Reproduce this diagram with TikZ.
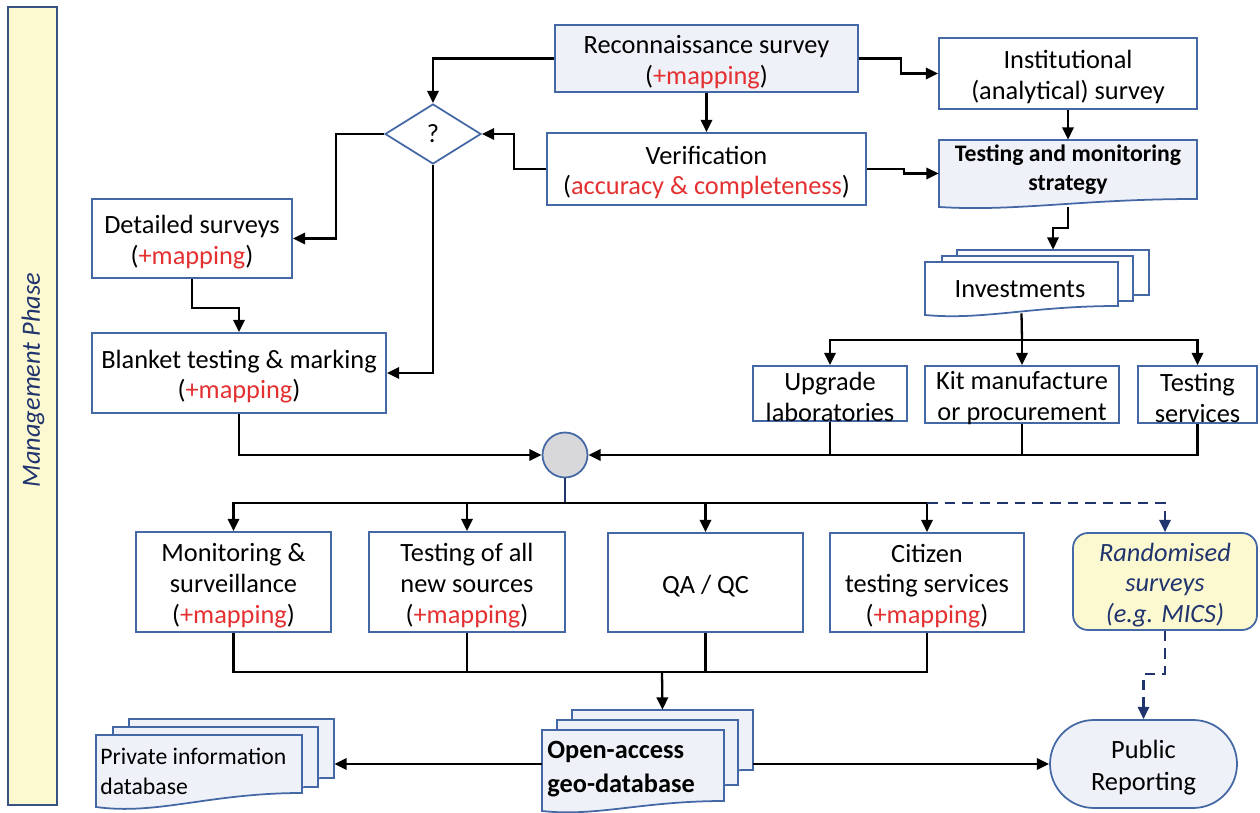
\documentclass[tikz,border=0pt]{standalone}
\usepackage{fontspec}
\setmainfont{Carlito}
\usetikzlibrary{shapes.geometric,arrows.meta,fit,calc}
\definecolor{boxblue}{RGB}{68,104,165}
\definecolor{navy}{RGB}{32,52,110}
\definecolor{mapred}{RGB}{228,48,48}
\definecolor{lightfill}{RGB}{238,241,247}
\definecolor{yel}{RGB}{252,248,208}
\definecolor{circgray}{RGB}{216,216,218}
\newcommand{\rtxt}[1]{\textcolor{mapred}{#1}}
\newcommand{\docshape}[6]{%
  \filldraw[draw=boxblue, line width=1pt, fill=#5] (#1,#2) -- (#3,#2) -- (#3,{#4-#6})
    .. controls ({#1+0.55*(#3-#1)},{#4-#6}) and ({#1+0.3*(#3-#1)},{#4+0.6*#6}) .. (#1,#4) -- cycle;}
\begin{document}
\begin{tikzpicture}[x=0.02cm,y=-0.02cm,
  box/.style={draw=boxblue, line width=1pt, fill=white, inner sep=0pt},
  shapebox/.style={inner sep=0pt, draw=none},
  txt/.style={inner sep=0pt, align=center, font=\fontsize{15}{17.5}\selectfont},
  ctxt/.style={txt, yshift=-2pt},
  con/.style={line width=1.3pt},
  arr/.style={con, -{Triangle[length=7pt,width=6.5pt]}},
  dasharr/.style={line width=1.3pt, draw=navy, dash pattern=on 6pt off 4pt, -{Triangle[length=7pt,width=6.5pt,fill=navy]}}
]
\useasboundingbox (0,0) rectangle (1260,813);

% Management phase bar
\node[draw=boxblue!80!black, line width=1pt, fill=yel, fit={(8,7)(57,805)}, inner sep=0pt] (mgmt) {};
\node[rotate=90, font=\fontsize{15}{18}\selectfont\itshape, text=navy] (mgmtlbl) at (33,380) {Management Phase};

% top boxes
\node[box, fill=lightfill, fit={(555,25)(858,92)}] (recon) {};
\node[ctxt] at (recon.center) {Reconnaissance survey\\(\rtxt{+mapping})};
\node[box, fit={(547,133)(866,205)}] (verif) {};
\node[ctxt] at (verif.center) {Verification\\(\rtxt{accuracy \& completeness})};
\node[box, fit={(939,38)(1197,109)}] (inst) {};
\node[ctxt] at (inst.center) {Institutional\\(analytical) survey};
\node[box, fit={(92,199)(292,278)}] (det) {};
\node[ctxt] at (det.center) {Detailed surveys\\(\rtxt{+mapping})};
\node[box, fit={(92,333)(386,413)}] (blank) {};
\node[ctxt] at (blank.center) {Blanket testing \& marking\\(\rtxt{+mapping})};
\node[draw=boxblue, fill=white, line width=1pt, diamond, aspect=1.6, minimum width=1.92cm, minimum height=1.2cm, inner sep=0pt, font=\fontsize{15}{17.5}\selectfont] (q) at (433,134) {?};

% testing and monitoring strategy
\docshape{939}{140}{1197}{207}{lightfill}{8}
\node[shapebox, fit={(939,140)(1197,207)}] (tms) {};
\node[txt, font=\fontsize{13.5}{16.5}\selectfont\bfseries] (tmslbl) at (1068,170) {Testing and monitoring\\strategy};

% investments stack
\docshape{957}{250}{1149}{301}{white}{6}
\docshape{942}{256}{1133}{308}{white}{7}
\docshape{925}{262}{1118}{315}{white}{9}
\node[shapebox, fit={(925,262)(1118,313)}] (inv) {};
\node[shapebox, fit={(957,250)(1149,300)}] (invback) {};
\node[txt] (invlbl) at (1020,289) {Investments};

% investment branches
\node[box, fit={(753,366)(907,421)}] (upg) {};
\node[ctxt] at (upg.center) {Upgrade\\laboratories};
\node[box, fit={(925,366)(1119,423)}] (kit) {};
\node[ctxt] at (kit.center) {Kit manufacture\\or procurement};
\node[box, fit={(1138,366)(1257,423)}] (tsv) {};
\node[ctxt] at (tsv.center) {Testing\\services};

% merge circle
\node[circle, draw=boxblue, fill=circgray, line width=1pt, minimum size=0.9cm, inner sep=0pt] (circ) at (565,455) {};

% bottom row
\node[box, fit={(136,532)(331,632)}] (mon) {};
\node[ctxt] at (mon.center) {Monitoring \&\\surveillance\\(\rtxt{+mapping})};
\node[box, fit={(369,532)(565,632)}] (tst) {};
\node[ctxt] at (tst.center) {Testing of all\\new sources\\(\rtxt{+mapping})};
\node[box, fit={(608,533)(803,632)}] (qa) {};
\node[ctxt] at (qa.center) {QA / QC};
\node[box, fit={(830,533)(1024,632)}] (cit) {};
\node[ctxt] at (cit.center) {Citizen\\testing services\\(\rtxt{+mapping})};
\node[box, fill=yel, rounded corners=0.3cm, fit={(1073,533)(1257,630)}] (rand) {};
\node[ctxt, font=\fontsize{15}{17.5}\selectfont\itshape, text=navy] at (rand.center) {Randomised\\surveys\\(e.g. MICS)};
\node[box, fill=lightfill, rounded corners=0.88cm, fit={(1050,720)(1237,808)}] (pub) {};
\node[ctxt, font=\fontsize{15}{18.5}\selectfont] at (pub.center) {Public\\Reporting};

% private information stack
\docshape{129}{719}{334}{788}{lightfill}{10}
\docshape{113}{727}{318}{797}{lightfill}{10}
\docshape{96}{735}{302}{807}{lightfill}{14}
\node[shapebox, fit={(96,735)(302,800)}] (priv) {};
\node[shapebox, fit={(129,719)(334,780)}] (privback) {};
\node[txt, align=left, anchor=west, font=\fontsize{13.5}{17}\selectfont] (privlbl) at (100,771) {Private information\\database};

% open-access stack
\docshape{572}{710}{753}{780}{lightfill}{10}
\docshape{557}{720}{738}{795}{lightfill}{10}
\docshape{542}{730}{724}{811}{lightfill}{10}
\node[shapebox, fit={(542,730)(724,805)}] (oa) {};
\node[shapebox, fit={(572,710)(753,775)}] (oaback) {};
\node[txt, align=left, anchor=west, font=\fontsize{15}{19}\selectfont\bfseries] (oalbl) at (547,769) {Open-access\\geo-database};

% junction coordinates
\coordinate (invj) at (1022,340);
\coordinate (j3) at (565,503);
\coordinate (j4) at (662,672);

% connectors: top
\draw[arr] (recon.west) -| (q.north);
\draw[arr] (recon.south) -- (verif.north);
\draw[arr] (verif.west) -- ++(-32,0) |- (q.east);
\draw[arr] (recon.east) -- ++(42,0) |- (inst.west);
\draw[arr] (inst.south) -- (tms.north);
\draw[arr] (verif.east) -- ++(37,0) |- (tms.west);
\draw[arr] (tms.south) -- ++(0,21) -| (invback.north);
\draw[arr] (q.west) -- ++(-48,0) |- (det.east);
\draw[arr] (q.south) |- (blank.east);
\draw[arr] (det.south) -- ++(0,29) -| (blank.north);

% investments branches
\draw[con] (inv.south) -- (invj);
\draw[arr] (invj) -| (upg.north);
\draw[arr] (invj) -| (kit.north);
\draw[arr] (invj) -| (tsv.north);
\draw[arr] (tsv.south) |- (circ.east);
\draw[con] (upg.south) -- (upg.south |- circ.east);
\draw[con] (kit.south) -- (kit.south |- circ.east);
\draw[arr] (blank.south) |- (circ.west);

% circle to bottom row
\draw[con, draw=navy] (circ.south) -- (j3);
\draw[arr] (j3) -| (mon.north);
\draw[arr] (j3) -| (tst.north);
\draw[arr] (j3) -| (qa.north);
\draw[arr] (j3) -| (cit.north);
\draw[dasharr] (cit.north |- j3) -| (rand.north);

% bottom row to database
\draw[con] (mon.south) |- (cit.south |- j4) -- (cit.south);
\draw[con] (tst.south) -- (tst.south |- j4);
\draw[con] (qa.south) -- (qa.south |- j4);
\draw[arr] (j4) -- (oaback.north);

% database outputs
\draw[arr] (oa.west |- pub.west) -- (privback.east |- pub.west);
\draw[arr] (oaback.east |- pub.west) -- (pub.west);
\draw[dasharr] (rand.south) -- ++(0,43) -| (pub.north);
\end{tikzpicture}
\end{document}
